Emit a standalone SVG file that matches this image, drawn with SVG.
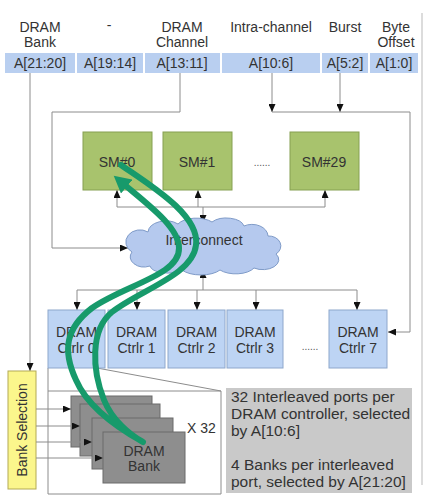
<svg xmlns="http://www.w3.org/2000/svg" width="432" height="504" viewBox="0 0 432 504">
<style>
text{font-family:"Liberation Sans",Arial,sans-serif;fill:#333;font-size:14px}
.c{text-anchor:middle}
.cell{fill:#b9cff0}
.sm{fill:#a8c36d;stroke:#86a052;stroke-width:1}
.ct{fill:#bdd4f4;stroke:#8ea7cc;stroke-width:1}
.bk{fill:#8e8e8e;stroke:#6a6a6a;stroke-width:1}
.ln{fill:none;stroke:#8c8c8c;stroke-width:1}
.ar{marker-end:url(#ah)}
.dots{font-size:10px;fill:#555}
</style>
<defs>
<marker id="ah" markerUnits="userSpaceOnUse" markerWidth="8" markerHeight="7" refX="8" refY="3.5" orient="auto">
<path d="M0,0 L8,3.5 L0,7 z" fill="#111"/>
</marker>
<marker id="gh" markerUnits="userSpaceOnUse" markerWidth="18" markerHeight="18" refX="1" refY="9" orient="auto">
<path d="M0,0 L17,9 L0,18 z" fill="#179a6b"/>
</marker>
</defs>
<rect width="432" height="504" fill="#fff"/>
<line x1="422" y1="13" x2="422" y2="485" stroke="#d0d0d0" stroke-width="1.5"/>
<g id="header">
<text class="c" x="40" y="32">DRAM</text><text class="c" x="40" y="47">Bank</text>
<text class="c" x="109" y="30">-</text>
<text class="c" x="182" y="32">DRAM</text><text class="c" x="182" y="47">Channel</text>
<text class="c" x="271" y="32">Intra-channel</text>
<text class="c" x="345" y="32">Burst</text>
<text class="c" x="396" y="32">Byte</text><text class="c" x="396" y="47">Offset</text>
</g>
<g id="address-bar">
<rect class="cell" x="5" y="53" width="70" height="20"/>
<rect class="cell" x="77" y="53" width="66" height="20"/>
<rect class="cell" x="145" y="53" width="75" height="20"/>
<rect class="cell" x="222" y="53" width="98" height="20"/>
<rect class="cell" x="322" y="53" width="46" height="20"/>
<rect class="cell" x="370" y="53" width="48" height="20"/>
<text class="c" x="40" y="68">A[21:20]</text>
<text class="c" x="110" y="68">A[19:14]</text>
<text class="c" x="182" y="68">A[13:11]</text>
<text class="c" x="271" y="68">A[10:6]</text>
<text class="c" x="345" y="68">A[5:2]</text>
<text class="c" x="394" y="68">A[1:0]</text>
</g>
<g id="connectors">
<path class="ln ar" d="M30,73 V371"/>
<path class="ln ar" d="M180,73 V112 H52 V248 H128"/>
<path class="ln ar" d="M272,73 V112"/>
<path class="ln ar" d="M340,73 V112"/>
<path class="ln ar" d="M272,112 H410 V332 H388"/>
<path class="ln" d="M117,207 H325"/>
<path class="ln ar" d="M117,207 V190"/>
<path class="ln ar" d="M198,207 V190"/>
<path class="ln ar" d="M325,207 V190"/>
<path class="ln ar" d="M203,207 V223"/>
<path class="ln ar" d="M203,290 V270"/>
<path class="ln" d="M77,290 H357"/>
<path class="ln ar" d="M77,290 V310"/>
<path class="ln ar" d="M137,290 V310"/>
<path class="ln ar" d="M197,290 V310"/>
<path class="ln ar" d="M256,290 V310"/>
<path class="ln ar" d="M357,290 V310"/>
<path class="ln" d="M48,368 V494 H221 V391 H48"/>
<path class="ln" d="M97,368 L221,391"/>
</g>
<g id="sm0"><rect class="sm" x="83" y="132" width="69" height="58"/><text class="c" x="117" y="167">SM#0</text></g>
<g id="sm1"><rect class="sm" x="163" y="132" width="69" height="58"/><text class="c" x="197" y="167">SM#1</text></g>
<text class="c dots" x="262" y="166">......</text>
<g id="sm29"><rect class="sm" x="290" y="132" width="69" height="58"/><text class="c" x="324" y="167">SM#29</text></g>
<g id="interconnect">
<path d="M150,266 A14,10 0 0 1 132,252 A14,12 0 0 1 148,232 A18,12 0 0 1 178,224 A20,10 0 0 1 212,222 A18,10 0 0 1 244,226 A16,12 0 0 1 268,236 A12,10 0 0 1 276,254 A16,10 0 0 1 254,268 A20,10 0 0 1 220,270 A22,10 0 0 1 182,270 A18,8 0 0 1 150,266 Z" fill="#b5c9ee" stroke="#7f9bc8" stroke-width="1"/>
<text class="c" x="204" y="245">Interconnect</text>
</g>
<g id="ctrl0"><rect class="ct" x="48" y="310" width="57" height="58"/><text class="c" x="76.5" y="337">DRAM</text><text class="c" x="76.5" y="353">Ctrlr 0</text></g>
<g id="ctrl1"><rect class="ct" x="108" y="310" width="57" height="58"/><text class="c" x="136.5" y="337">DRAM</text><text class="c" x="136.5" y="353">Ctrlr 1</text></g>
<g id="ctrl2"><rect class="ct" x="168" y="310" width="57" height="58"/><text class="c" x="196.5" y="337">DRAM</text><text class="c" x="196.5" y="353">Ctrlr 2</text></g>
<g id="ctrl3"><rect class="ct" x="227" y="310" width="56" height="58"/><text class="c" x="255" y="337">DRAM</text><text class="c" x="255" y="353">Ctrlr 3</text></g>
<text class="c dots" x="310" y="350">......</text>
<g id="ctrl7"><rect class="ct" x="329" y="310" width="58" height="58"/><text class="c" x="358" y="337">DRAM</text><text class="c" x="358" y="353">Ctrlr 7</text></g>
<g id="bank-selection">
<rect x="8" y="371" width="28" height="118" fill="#fbf68c" stroke="#b3aa55" stroke-width="1"/>
<text class="c" transform="translate(27,430) rotate(-90)">Bank Selection</text>
</g>
<g id="banks">
<rect class="bk" x="71" y="396" width="81" height="51"/>
<rect class="bk" x="80" y="404" width="80" height="52"/>
<rect class="bk" x="92" y="418" width="81" height="51"/>
<rect class="bk" x="103" y="432" width="82" height="51"/>
<text class="c" x="144" y="456">DRAM</text><text class="c" x="144" y="471">Bank</text>
</g>
<g id="bank-arrows">
<path class="ln ar" d="M36,409 H71"/>
<path class="ln ar" d="M36,426 H80"/>
<path class="ln ar" d="M36,442 H92"/>
<path class="ln ar" d="M36,458 H103"/>
</g>
<text x="187" y="433">X 32</text>
<g id="note">
<rect x="226" y="388" width="186" height="105" fill="#c9c9c9"/>
<text x="231" y="402" style="font-size:15.5px">32 Interleaved ports per</text>
<text x="231" y="419" style="font-size:15.5px">DRAM controller, selected</text>
<text x="231" y="436" style="font-size:15.5px">by A[10:6]</text>
<text x="231" y="470" style="font-size:15.5px">4 Banks per interleaved</text>
<text x="231" y="487" style="font-size:15.5px">port, selected by A[21:20]</text>
</g>
<g id="flow">
<path d="M121,165 C150,185 200,215 196,245 C193,275 140,290 112,312 C90,330 92,370 104,400 C112,420 130,435 143,442 C118,428 88,408 76,380 C62,350 66,328 92,308 C125,285 180,275 179,248 C179,228 150,206 126,186" fill="none" stroke="#179a6b" stroke-width="6" stroke-linecap="round" stroke-linejoin="round" marker-end="url(#gh)"/>
</g>
</svg>
